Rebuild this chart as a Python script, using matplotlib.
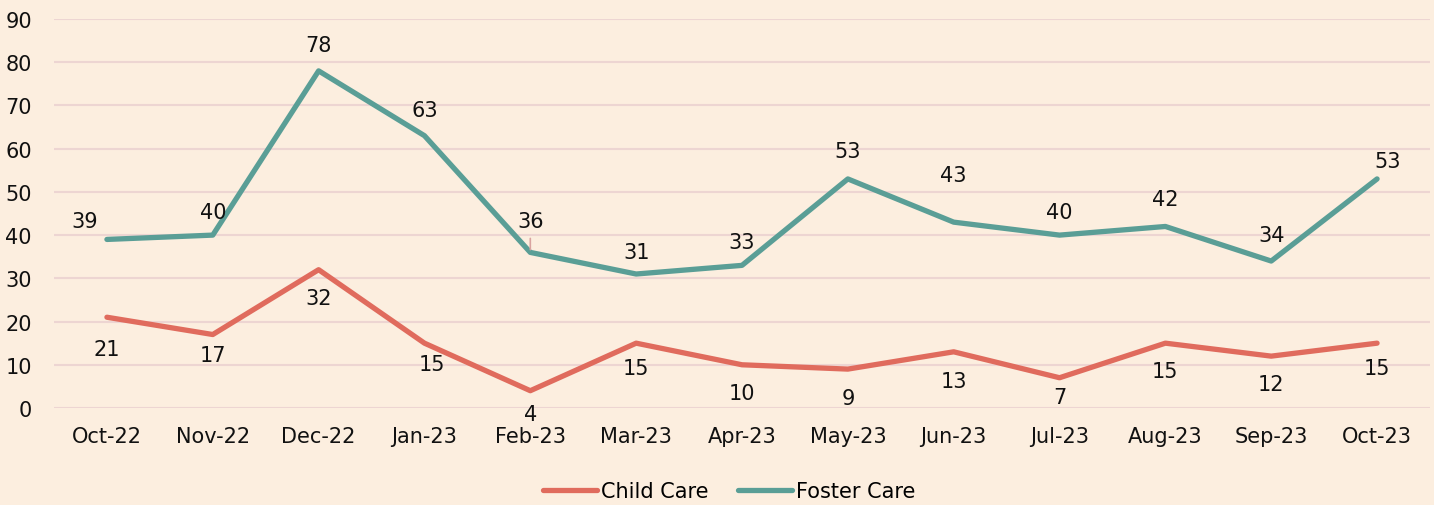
import matplotlib
matplotlib.use("Agg")
import matplotlib.pyplot as plt

months = ["Oct-22", "Nov-22", "Dec-22", "Jan-23", "Feb-23", "Mar-23", "Apr-23",
          "May-23", "Jun-23", "Jul-23", "Aug-23", "Sep-23", "Oct-23"]
child_care = [21, 17, 32, 15, 4, 15, 10, 9, 13, 7, 15, 12, 15]
foster_care = [39, 40, 78, 63, 36, 31, 33, 53, 43, 40, 42, 34, 53]
yticks = [0, 10, 20, 30, 40, 50, 60, 70, 80, 90]

# label offsets in pixels (dx, dy) -- styling only
foster_off = [(-22, 18), (0, 23), (0, 26), (0, 26), (0, 31), (0, 22), (0, 23),
              (0, 28), (0, 47), (0, 23), (0, 27), (0, 26), (11, 18)]
child_off = [(0, -32), (0, -20), (0, -28), (7, -21), (0, -23), (0, -25), (0, -28),
             (0, -29), (0, -29), (0, -19), (0, -28), (0, -28), (0, -25)]

bg = "#FCEEDF"
c_child = "#E06B5D"
c_foster = "#5A9E96"
grid_c = "#EDD5D2"
fs = 15

plt.rcParams['font.family'] = ['DejaVu Sans']
fig = plt.figure(figsize=(14.34, 5.06), dpi=100, facecolor=bg)
ax = fig.add_axes([54 / 1434, 1 - 409 / 506, (1430 - 54) / 1434, (409 - 20) / 506])
ax.set_facecolor(bg)

x = list(range(len(months)))
ax.plot(x, child_care, color=c_child, lw=3.8, solid_capstyle='round', label="Child Care", zorder=3)
ax.plot(x, foster_care, color=c_foster, lw=3.8, solid_capstyle='round', label="Foster Care", zorder=3)

px = 0.72
for i, v in enumerate(foster_care):
    dx, dy = foster_off[i]
    ax.annotate(str(v), (i, v), xytext=(dx * px, dy * px), textcoords='offset points',
                ha='center', va='center', fontsize=fs, color='#111111', zorder=4)
for i, v in enumerate(child_care):
    dx, dy = child_off[i]
    ax.annotate(str(v), (i, v), xytext=(dx * px, dy * px), textcoords='offset points',
                ha='center', va='center', fontsize=fs, color='#111111', zorder=4)

# leader line for Feb-23 foster label
ax.annotate("", (4, foster_care[4]), xytext=(0, 14 * px), textcoords='offset points',
            arrowprops=dict(arrowstyle='-', color='#D9A3A0', lw=1.2, shrinkA=0, shrinkB=2))

ax.set_xlim(-0.5, len(months) - 0.5)
ax.set_ylim(0, 90)
ax.set_yticks(yticks)
ax.set_xticks(x)
ax.set_xticklabels(months)
ax.tick_params(axis='both', length=0, labelsize=fs, colors='#111111')
ax.tick_params(axis='x', pad=13)
ax.tick_params(axis='y', pad=16)
ax.grid(axis='y', color=grid_c, lw=1.5, zorder=0)
ax.set_axisbelow(True)
for s in ax.spines.values():
    s.set_visible(False)

leg = fig.legend(loc='center', bbox_to_anchor=(0.5 + 12 / 1434, 1 - 492 / 506), ncol=2,
                 frameon=False, fontsize=fs, handlelength=2.6, handletextpad=0.2,
                 columnspacing=1.4)

fig.savefig("out.png", dpi=100, facecolor=bg)
